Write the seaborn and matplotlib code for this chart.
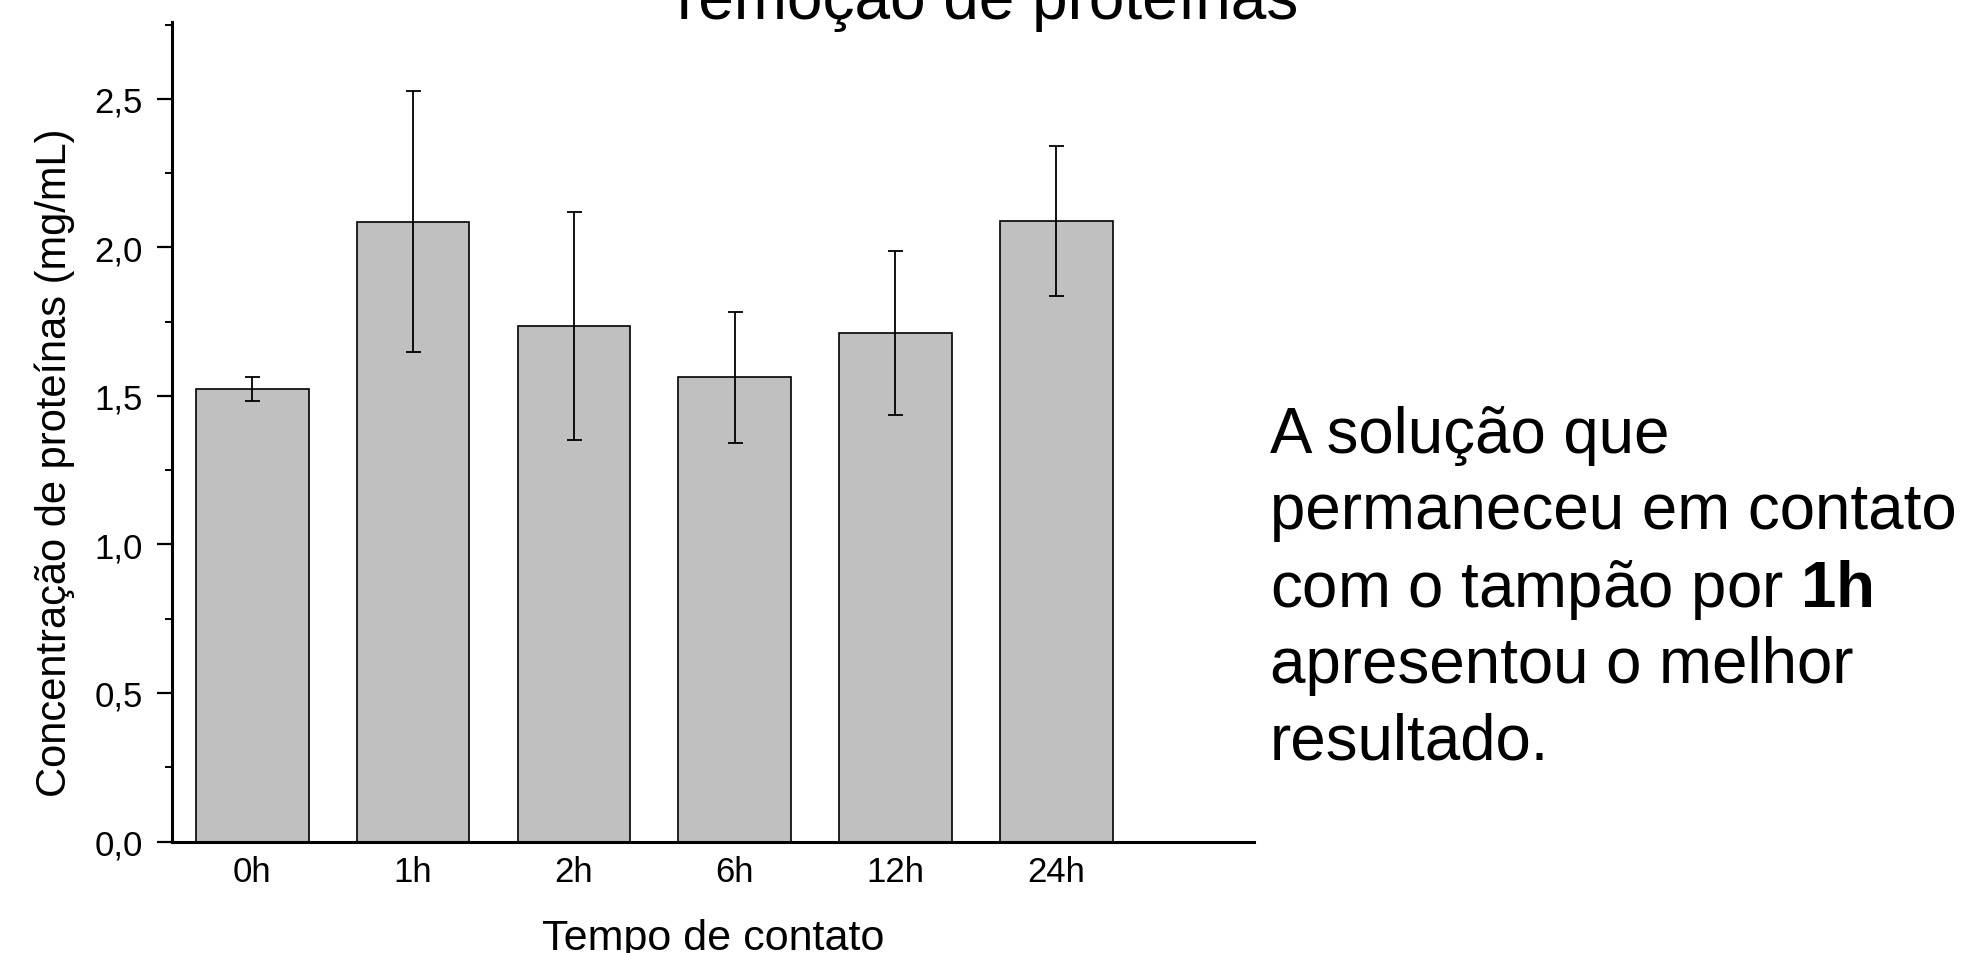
import matplotlib
matplotlib.use("Agg")
import matplotlib.pyplot as plt
from matplotlib.ticker import MultipleLocator, AutoMinorLocator, FuncFormatter
import seaborn as sns
import pandas as pd

# Protein concentration after each contact time (mean and deviation, mg/mL)
tempos = ["0h", "1h", "2h", "6h", "12h", "24h"]
concentracao = [1.523, 2.087, 1.736, 1.562, 1.711, 2.089]
desvio = [0.040, 0.438, 0.384, 0.219, 0.276, 0.252]

titulo = "remoção de proteínas"
rotulo_x = "Tempo de contato"
rotulo_y = "Concentração de proteínas (mg/mL)"
nota = [
    "A solução que",
    "permaneceu em contato",
    "com o tampão por $\\mathbf{1h}$",
    "apresentou o melhor",
    "resultado.",
]

sns.set_style("white")
plt.rcParams["font.family"] = ["Liberation Sans", "DejaVu Sans"]
plt.rcParams["mathtext.fontset"] = "custom"
plt.rcParams["mathtext.rm"] = "Liberation Sans"
plt.rcParams["mathtext.bf"] = "Liberation Sans:bold"
for key in ("text.color", "axes.labelcolor", "xtick.color", "ytick.color",
            "axes.edgecolor"):
    plt.rcParams[key] = "black"

W, H = 1966, 954
fig = plt.figure(figsize=(W / 100, H / 100), dpi=100)
ax = fig.add_axes([172 / W, 1 - 842.5 / H, (1254 - 172) / W, (842.5 - 22.6) / H])

df = pd.DataFrame({"tempo": tempos, "conc": concentracao})
sns.barplot(data=df, x="tempo", y="conc", color="#C0C0C0", saturation=1,
            edgecolor="black", linewidth=1.2, width=0.7, ax=ax)
ax.errorbar(x=list(range(len(tempos))), y=concentracao, yerr=desvio, fmt="none",
            ecolor="black", elinewidth=1.3, capsize=5.4, capthick=1.3, zorder=5)

ax.set_xlim(-0.5, 6.23)
ax.set_ylim(0, 2.76)
ax.yaxis.set_major_locator(MultipleLocator(0.5))
ax.yaxis.set_minor_locator(AutoMinorLocator(2))
ax.yaxis.set_major_formatter(FuncFormatter(lambda v, p: f"{v:.1f}".replace(".", ",")))

for side in ("top", "right"):
    ax.spines[side].set_visible(False)
for side in ("left", "bottom"):
    ax.spines[side].set_linewidth(2.2)
    ax.spines[side].set_color("black")

ax.tick_params(axis="y", which="major", direction="out", length=10.8, width=1.6,
               pad=10, labelsize=25, color="black", labelcolor="black", left=True)
ax.tick_params(axis="y", which="minor", direction="out", length=5, width=1.4,
               color="black", left=True)
ax.tick_params(axis="x", which="both", length=0, pad=10, labelsize=25,
               labelcolor="black")

ax.set_xlabel(rotulo_x, fontsize=31, labelpad=21, color="black")
ax.set_ylabel(rotulo_y, fontsize=30, color="black")
ax.yaxis.set_label_coords(-0.0896, 0.4635)

fig.text(988 / W, 1 - 19 / H, titulo, ha="center", va="baseline", fontsize=46,
         color="black")

baselines = [453, 529, 607, 683, 760]
for linha, yb in zip(nota, baselines):
    fig.text(1270 / W, 1 - yb / H, linha, ha="left", va="baseline", fontsize=45.8,
             color="black")

fig.savefig("out.png", dpi=100, facecolor="white")
